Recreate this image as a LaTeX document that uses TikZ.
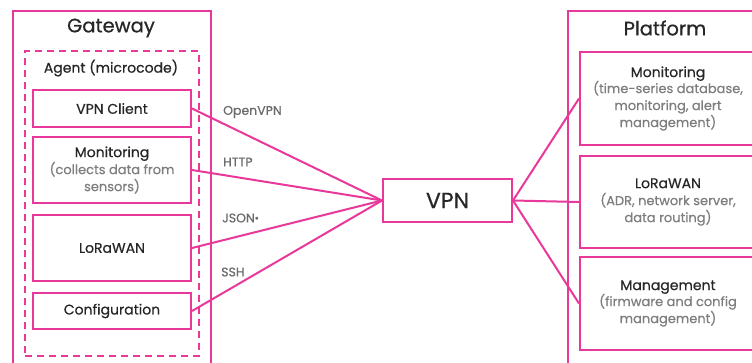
\documentclass[tikz,border=0pt]{standalone}
\usepackage{fontspec}
\setmainfont{Poppins}[FakeBold=0.6]
\definecolor{mag}{HTML}{E8399A}
\definecolor{txt}{HTML}{262626}
\definecolor{sub}{HTML}{7E7E7E}
\begin{document}
\begin{tikzpicture}[x=1pt,y=-1pt,
  box/.style={draw=mag,line width=2pt,rectangle,anchor=north west,inner sep=0pt,align=center,text=txt,font=\fontsize{14}{17}\selectfont},
  group/.style={draw=mag,line width=2pt,rectangle,anchor=north west,inner sep=0pt},
  dgroup/.style={draw=mag,line width=2pt,rectangle,anchor=north west,inner sep=0pt,dash pattern=on 7pt off 5pt},
  title/.style={text=txt,font=\fontsize{19.5}{22}\selectfont},
  sublabel/.style={text=txt,font=\fontsize{14}{17}\selectfont},
  link/.style={draw=mag,line width=2pt},
  proto/.style={text=sub!85!black,font=\fontsize{12.5}{14}\selectfont,anchor=west,inner sep=0pt}
]
\useasboundingbox (0,0) rectangle (752,362);
\clip (0,0) rectangle (752,362);
% Gateway
\node[group,minimum width=198,minimum height=370] (gw) at (12,10) {};
\node[title] (gwt) at (111,28) {Gateway};
\node[dgroup,minimum width=174,minimum height=305] (agent) at (24,50) {};
\node[sublabel] (agt) at (111,68) {Agent (microcode)};
\node[box,minimum width=158,minimum height=37] (vpnc) at (32,89) {VPN Client};
\node[box,minimum width=158,minimum height=66] (mon) at (32,136) {Monitoring\\[0pt]{\color{sub}\fontsize{13}{14.5}\selectfont (collects data from}\\[0pt]{\color{sub}\fontsize{13}{14.5}\selectfont sensors)}};
\node[box,minimum width=158,minimum height=66] (lora) at (32,214) {LoRaWAN};
\node[box,minimum width=158,minimum height=36] (conf) at (32,292) {Configuration};
% VPN
\node[box,minimum width=129,minimum height=43,font=\fontsize{22}{24}\selectfont] (vpn) at (382,178) {VPN};
% Platform
\node[group,minimum width=200,minimum height=370] (pf) at (567,10) {};
\node[title] (pft) at (665,28) {Platform};
\node[box,minimum width=176,minimum height=93] (pmon) at (579,51) {Monitoring\\[-1pt]{\color{sub}\fontsize{13}{17}\selectfont (time-series database,}\\{\color{sub}\fontsize{13}{17}\selectfont monitoring, alert}\\{\color{sub}\fontsize{13}{17}\selectfont management)}};
\node[box,minimum width=176,minimum height=92] (plora) at (579,155) {LoRaWAN\\[0pt]{\color{sub}\fontsize{13}{17}\selectfont (ADR, network server,}\\{\color{sub}\fontsize{13}{17}\selectfont data routing)}};
\node[box,minimum width=176,minimum height=93] (pmgmt) at (579,256) {Management\\[-1pt]{\color{sub}\fontsize{13}{17}\selectfont (firmware and config}\\{\color{sub}\fontsize{13}{17}\selectfont management)}};
% links
\draw[link] (vpnc.east) -- (vpn.west);
\draw[link] (mon.east) -- (vpn.west);
\draw[link] (lora.east) -- (vpn.west);
\draw[link] (conf.east) -- (vpn.west);
\draw[link] (vpn.east) -- (pmon.west);
\draw[link] (vpn.east) -- (plora.west);
\draw[link] (vpn.east) -- (pmgmt.west);
% protocol labels
\node[proto] (lopen) at (223,112) {OpenVPN};
\node[proto] (lhttp) at (223,162) {HTTP};
\node[proto] (ljson) at (222,218) {JSON\raisebox{0.3ex}{\scriptsize$\bullet$}};
\node[proto] (lssh) at (221,272) {SSH};
\end{tikzpicture}
\end{document}
